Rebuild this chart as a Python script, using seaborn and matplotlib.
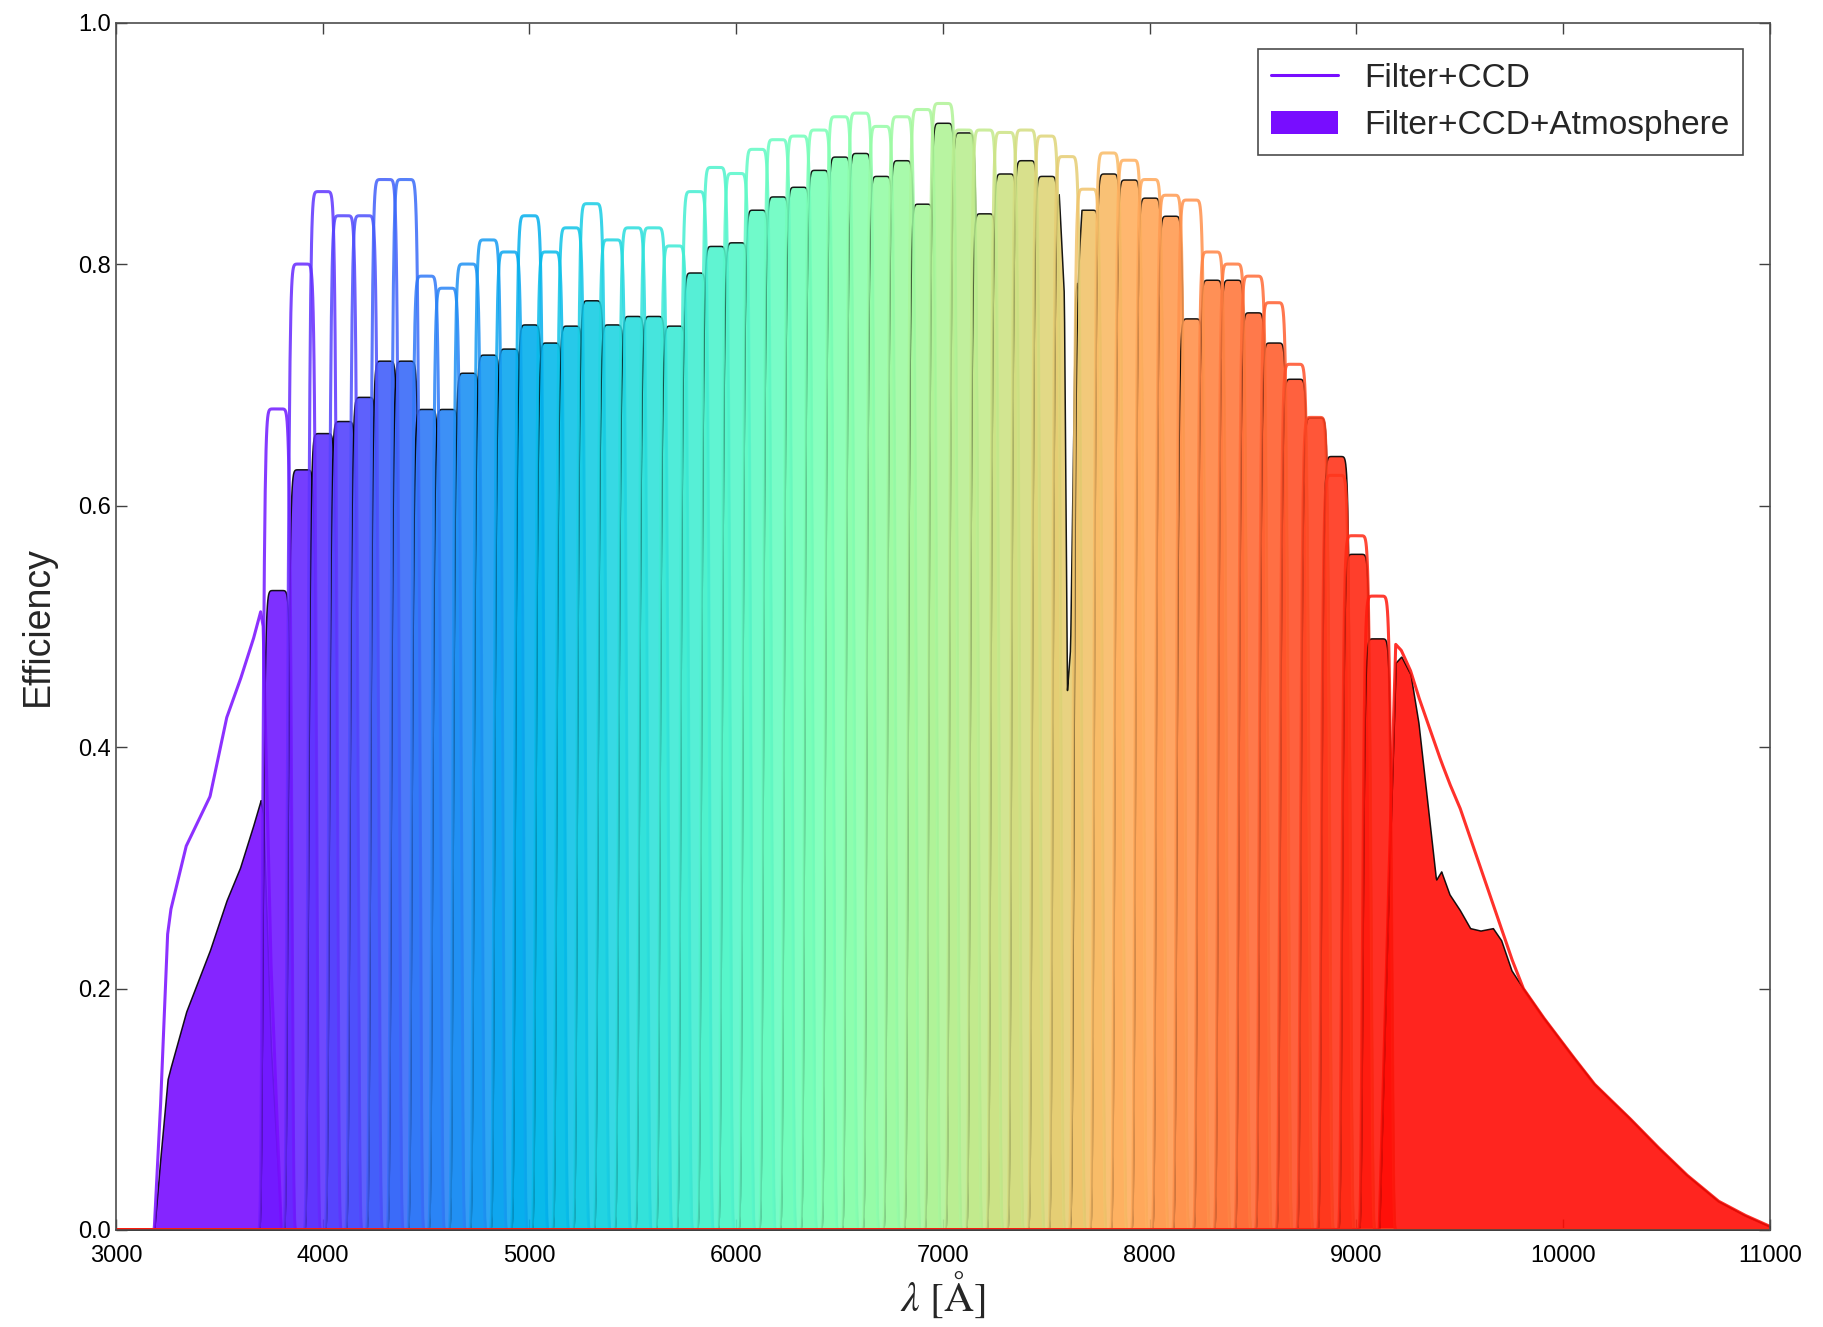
import numpy as np
import matplotlib
matplotlib.use("Agg")
import matplotlib.pyplot as plt
from matplotlib.lines import Line2D
from matplotlib.patches import Patch
import seaborn as sns

# ---- data ----
# broad blue filter (knots of the curves)
u_wave = [3185, 3215, 3250, 3265, 3340, 3455, 3535, 3600, 3664, 3700, 3712, 3750, 3800]
u_ccd = [0.0, 0.10, 0.245, 0.265, 0.318, 0.359, 0.424, 0.455, 0.489, 0.512, 0.50, 0.22, 0.0]
u_atm = [0.0, 0.06, 0.125, 0.135, 0.181, 0.232, 0.273, 0.30, 0.335, 0.356, 0.345, 0.15, 0.0]

# narrow band filters: central wavelength and peak efficiency
nb_center = [3780, 3900, 4000, 4100, 4200, 4300, 4400, 4500, 4600, 4700,
             4800, 4900, 5000, 5100, 5200, 5300, 5400, 5500, 5600, 5700,
             5800, 5900, 6000, 6100, 6200, 6300, 6400, 6500, 6600, 6700,
             6800, 6900, 7000, 7100, 7200, 7300, 7400, 7500, 7600, 7700,
             7800, 7900, 8000, 8100, 8200, 8300, 8400, 8500, 8600, 8700,
             8800, 8900, 9000, 9100]
nb_ccd = [0.68, 0.80, 0.86, 0.84, 0.84, 0.87, 0.87, 0.79, 0.78, 0.80,
          0.82, 0.81, 0.84, 0.81, 0.83, 0.85, 0.82, 0.83, 0.83, 0.815,
          0.86, 0.88, 0.875, 0.895, 0.903, 0.906, 0.911, 0.922, 0.925, 0.914,
          0.922, 0.928, 0.933, 0.911, 0.911, 0.909, 0.911, 0.906, 0.889, 0.862,
          0.892, 0.886, 0.87, 0.857, 0.853, 0.81, 0.80, 0.79, 0.768, 0.717,
          0.673, 0.625, 0.575, 0.525]
nb_atm = [0.53, 0.63, 0.66, 0.67, 0.69, 0.72, 0.72, 0.68, 0.68, 0.71,
          0.725, 0.73, 0.75, 0.735, 0.749, 0.77, 0.75, 0.757, 0.757, 0.749,
          0.793, 0.815, 0.818, 0.845, 0.856, 0.864, 0.878, 0.889, 0.892, 0.873,
          0.886, 0.85, 0.917, 0.909, 0.842, 0.875, 0.886, 0.873, 0.86, 0.845,
          0.875, 0.87, 0.855, 0.84, 0.755, 0.787, 0.787, 0.76, 0.735, 0.705,
          0.673, 0.641, 0.56, 0.49]
nb_fwhm = 140

# O2 A-band absorption
aband_wave = [7560, 7585, 7600, 7615, 7640, 7670]
aband_trans = [1.0, 0.9, 0.52, 0.56, 0.9, 1.0]

# broad red filter
red_wave = [9110, 9150, 9190, 9217, 9262, 9300, 9385, 9410, 9450, 9500, 9550,
            9600, 9660, 9700, 9750, 9807, 9900, 10032, 10150, 10313, 10450,
            10595, 10750, 10876, 11000]
red_ccd = [0.0, 0.25, 0.485, 0.48, 0.463, 0.442, 0.40, 0.388, 0.37, 0.35, 0.325,
           0.30, 0.27, 0.25, 0.225, 0.20, 0.177, 0.147, 0.121, 0.094, 0.07,
           0.046, 0.024, 0.0125, 0.003]
red_atm = [0.0, 0.25, 0.47, 0.475, 0.46, 0.42, 0.29, 0.297, 0.278, 0.265, 0.25,
           0.248, 0.25, 0.24, 0.215, 0.20, 0.177, 0.147, 0.121, 0.094, 0.07,
           0.046, 0.024, 0.0125, 0.003]

# ---- build curves ----
wave = np.arange(3000, 11001, 2.0)
aband = np.interp(wave, aband_wave, aband_trans, left=1.0, right=1.0)


def band(center, peak):
    return peak * np.exp(-np.log(2) * np.abs(2 * (wave - center) / nb_fwhm) ** 10)


ccd_curves = [np.interp(wave, u_wave, u_ccd, left=0, right=0)]
atm_curves = [np.interp(wave, u_wave, u_atm, left=0, right=0)]
for c, p1, p2 in zip(nb_center, nb_ccd, nb_atm):
    ccd_curves.append(band(c, p1))
    atm_curves.append(band(c, p2) * aband)
ccd_curves.append(np.interp(wave, red_wave, red_ccd, left=0, right=0))
atm_curves.append(np.interp(wave, red_wave, red_atm, left=0, right=0))

colors = sns.color_palette("rainbow", len(ccd_curves))

# ---- plot ----
sns.set_style("ticks")
plt.rcParams['font.family'] = ['Liberation Sans', 'DejaVu Sans']
plt.rcParams['mathtext.fontset'] = 'stix'

fig = plt.figure(figsize=(18.23, 13.27), dpi=100)
ax = fig.add_axes([0.0636, 0.0731, 0.9073, 0.9099])

for i in range(len(ccd_curves)):
    ax.plot(wave, ccd_curves[i], color=colors[i], lw=2.2, alpha=0.85)
    ax.fill_between(wave, atm_curves[i], facecolor=colors[i], alpha=0.9,
                    edgecolor='k', lw=1.1)

ax.set_xlim(3000, 11000)
ax.set_ylim(0, 1)
ax.set_xticks(np.arange(3000, 11001, 1000))
ax.set_yticks(np.arange(0, 1.01, 0.2))
ax.yaxis.set_major_formatter(matplotlib.ticker.FormatStrFormatter('%.1f'))
ax.tick_params(direction='in', top=True, right=True, length=8, width=1,
               labelsize=17, colors='0.25', labelcolor='k')
ax.tick_params(axis='x', pad=11)
for s in ax.spines.values():
    s.set_color('0.3')
    s.set_linewidth(1.2)

ax.set_xlabel(r'$\lambda\ [\mathrm{\AA}]$', fontsize=30, labelpad=2)
ax.set_ylabel('Efficiency', fontsize=27, labelpad=16)

handles = [Line2D([], [], color=colors[0], lw=2.2),
           Patch(facecolor=colors[0], edgecolor='none')]
leg = ax.legend(handles, ['Filter+CCD', 'Filter+CCD+Atmosphere'],
                loc='upper right', fontsize=24, fancybox=False, framealpha=1,
                edgecolor='0.3', borderaxespad=0.8, handlelength=2.0)
leg.get_frame().set_linewidth(1.2)

fig.savefig('out.png', dpi=100)
